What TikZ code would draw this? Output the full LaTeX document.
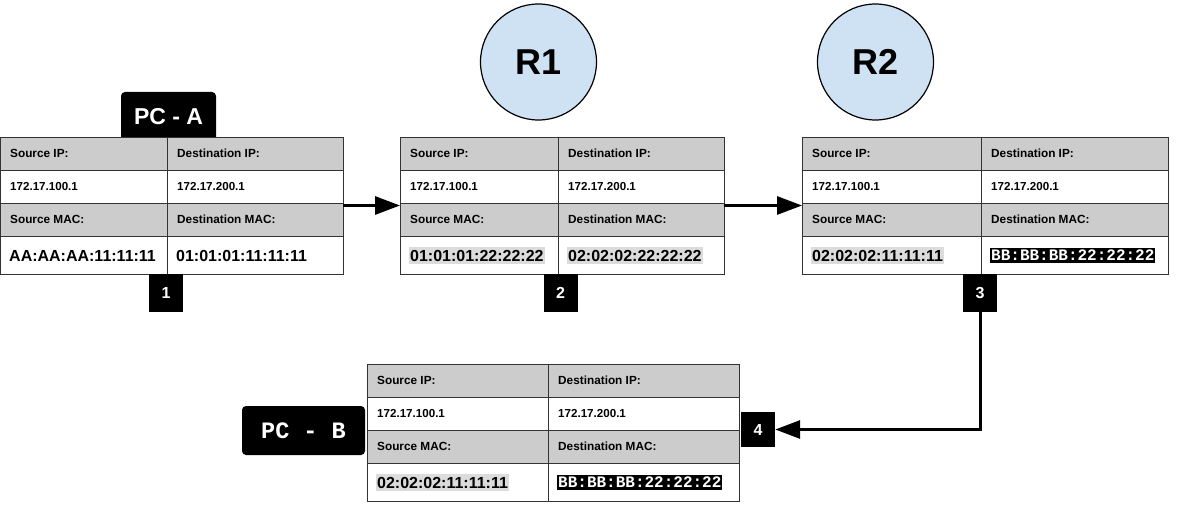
\documentclass[tikz,border=0pt]{standalone}
\usepackage{fontspec}
\setmainfont{Liberation Sans}
\setmonofont{Liberation Mono}
\usetikzlibrary{arrows.meta}
\definecolor{hdr}{HTML}{CCCCCC}
\definecolor{hlgray}{HTML}{DCDCDC}
\definecolor{rbg}{HTML}{CFE2F3}
\tikzset{
  tbl/.style={draw=black!80, line width=0.8pt, inner sep=0pt, outer sep=0pt, anchor=north west},
  gridln/.style={draw=black!80, line width=0.8pt},
  hdrtxt/.style={anchor=west, inner sep=0pt, font=\bfseries\fontsize{11.8}{13}\selectfont},
  iptxt/.style={anchor=west, inner sep=0pt, font=\bfseries\fontsize{11.6}{13}\selectfont},
  macplain/.style={anchor=west, inner sep=0pt, font=\bfseries\fontsize{16}{18}\selectfont},
  macgray/.style={anchor=west, inner xsep=1pt, inner ysep=3pt, fill=hlgray, font=\bfseries\fontsize{16}{18}\selectfont},
  macblack/.style={anchor=west, inner xsep=1pt, inner ysep=2pt, fill=black, text=white, font=\ttfamily\bfseries\fontsize{16}{18}\selectfont},
  numbox/.style={fill=black, text=white, inner sep=0pt, minimum width=34pt, minimum height=38pt, font=\bfseries\fontsize{16}{18}\selectfont},
  router/.style={circle, draw=black, line width=1.2pt, fill=rbg, minimum size=116pt, inner sep=0pt, font=\bfseries\fontsize{36}{40}\selectfont},
  flow/.style={line width=3pt, -{Triangle[length=25pt,width=18pt]}},
}
% #1 name, #2 left, #3 split, #4 right, #5 top, #6 src style, #7 src mac, #8 dst style, #9 dst mac
\newcommand{\pkttable}[9]{%
  \fill[hdr] (#2,#5) rectangle (#4,#5+33);
  \fill[hdr] (#2,#5+66) rectangle (#4,#5+99);
  \node[tbl, minimum width={#4-#2}, minimum height=137] (#1) at (#2,#5) {};
  \draw[gridln] (#2,#5+33) -- (#4,#5+33);
  \draw[gridln] (#2,#5+66) -- (#4,#5+66);
  \draw[gridln] (#2,#5+99) -- (#4,#5+99);
  \draw[gridln] (#3,#5) -- (#3,#5+137);
  \node[hdrtxt] (#1-sipl) at (#2+10,#5+16.5) {Source IP:};
  \node[hdrtxt] (#1-dipl) at (#3+10,#5+16.5) {Destination IP:};
  \node[iptxt] (#1-sip) at (#2+10,#5+49.5) {172.17.100.1};
  \node[iptxt] (#1-dip) at (#3+10,#5+49.5) {172.17.200.1};
  \node[hdrtxt] (#1-smacl) at (#2+10,#5+82.5) {Source MAC:};
  \node[hdrtxt] (#1-dmacl) at (#3+10,#5+82.5) {Destination MAC:};
  \node[#6] (#1-smac) at (#2+9,#5+118.5) {#7};
  \node[#8] (#1-dmac) at (#3+9,#5+118.5) {#9};
}
\begin{document}
\begin{tikzpicture}[x=1pt,y=-1pt]
\useasboundingbox (0,0) rectangle (1179,505);
% routers
\node[router] (r1) at (538.5,62) {R1};
\node[router] (r2) at (875.5,62) {R2};
% PC-A tab
\node[fill=black, text=white, rounded corners=4pt, minimum width=95pt, minimum height=50pt, inner sep=0pt,
      font=\bfseries\fontsize{23}{26}\selectfont] (pca) at (168.5,117) {PC - A};
% tables
\pkttable{t1}{0}{167}{343}{137}{macplain}{AA:AA:AA:11:11:11}{macplain}{01:01:01:11:11:11}
\pkttable{t2}{400}{558}{724}{137}{macgray}{01:01:01:22:22:22}{macgray}{02:02:02:22:22:22}
\pkttable{t3}{802}{981}{1168}{137}{macgray}{02:02:02:11:11:11}{macblack}{BB:BB:BB:22:22:22}
\pkttable{t4}{367}{548}{739}{364}{macgray}{02:02:02:11:11:11}{macblack}{BB:BB:BB:22:22:22}
% PC-B
\node[fill=black, text=white, rounded corners=4pt, minimum width=123pt, minimum height=49pt, inner sep=0pt,
      font=\ttfamily\bfseries\fontsize{23.5}{26}\selectfont] (pcb) at (303.5,430.5) {PC - B};
% step numbers
\node[numbox] (n1) at (166,293) {1};
\node[numbox] (n2) at (560.5,293) {2};
\node[numbox] (n3) at (980,293) {3};
\node[numbox, minimum height=35pt] (n4) at (758,429.5) {4};
% arrows
\draw[flow] (t1.east) -- (t2.west);
\draw[flow] (t2.east) -- (t3.west);
\draw[flow] (n3.south) |- (n4.east);
\end{tikzpicture}
\end{document}
